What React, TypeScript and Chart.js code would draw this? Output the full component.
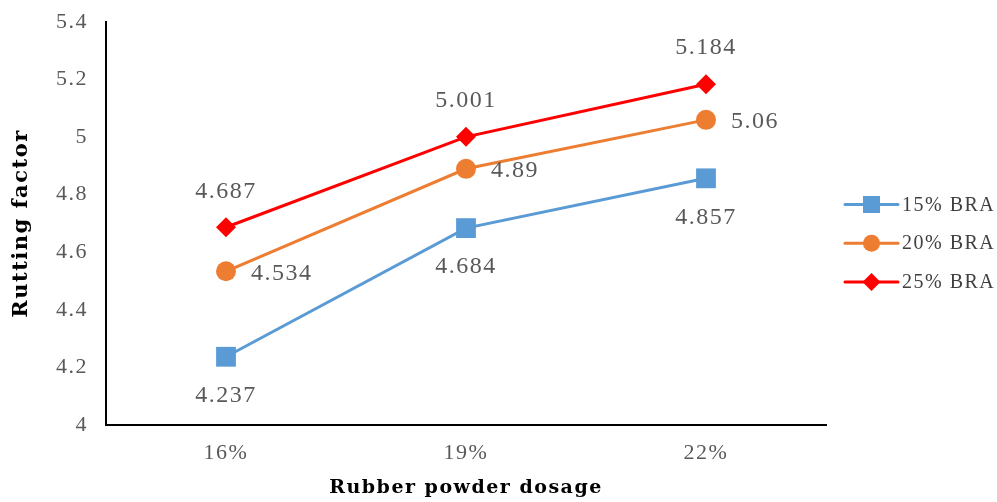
import React, { useEffect, useRef } from 'react';
import { Chart, registerables } from 'chart.js';

Chart.register(...registerables);

const categories = ['16%', '19%', '22%'];
const seriesNames = ['15% BRA', '20% BRA', '25% BRA'];
const bra15 = [4.237, 4.684, 4.857];
const bra20 = [4.534, 4.89, 5.06];
const bra25 = [4.687, 5.001, 5.184];
const seriesValues = [bra15, bra20, bra25];
const colors = ['#5B9BD5', '#ED7D31', '#FF0000'];
const pointStyles = ['rect', 'circle', 'rectRot'];
const pointRadii = [14, 10, 10];
const labelPositions = ['below', 'right', 'above'];
const yMin = 4;
const yMax = 5.4;
const yStep = 0.2;
const xTitle = 'Rubber powder dosage';
const yTitle = 'Rutting factor';

const SERIF = '"Liberation Serif", "DejaVu Serif", serif';
const TITLE_FONT = '"DejaVu Serif", "Liberation Serif", serif';
const GRAY = '#595959';

const spacingPlugin = {
  id: 'spacing',
  beforeDraw(chart: any) {
    chart.ctx.letterSpacing = '1.5px';
  },
  afterDraw(chart: any) {
    chart.ctx.letterSpacing = '0px';
  },
};

const dataLabelPlugin = {
  id: 'dataLabels',
  afterDatasetsDraw(chart: any) {
    const ctx = chart.ctx;
    ctx.save();
    ctx.letterSpacing = '1.5px';
    ctx.font = `24px ${SERIF}`;
    ctx.fillStyle = GRAY;
    ctx.textBaseline = 'middle';
    chart.data.datasets.forEach((ds: any, di: number) => {
      const meta = chart.getDatasetMeta(di);
      meta.data.forEach((pt: any, i: number) => {
        const txt = String(ds.data[i]);
        const pos = labelPositions[di];
        if (pos === 'above') {
          ctx.textAlign = 'center';
          ctx.fillText(txt, pt.x, pt.y - 36);
        } else if (pos === 'below') {
          ctx.textAlign = 'center';
          ctx.fillText(txt, pt.x, pt.y + 39);
        } else {
          ctx.textAlign = 'left';
          ctx.fillText(txt, pt.x + 25, pt.y + 2);
        }
      });
    });
    ctx.restore();
  },
};

function drawMarker(ctx: CanvasRenderingContext2D, style: string, x: number, y: number, color: string) {
  ctx.fillStyle = color;
  ctx.beginPath();
  if (style === 'rect') {
    ctx.rect(x - 8.5, y - 8.5, 17, 17);
  } else if (style === 'circle') {
    ctx.arc(x, y, 8.5, 0, Math.PI * 2);
  } else {
    ctx.moveTo(x, y - 9);
    ctx.lineTo(x + 9, y);
    ctx.lineTo(x, y + 9);
    ctx.lineTo(x - 9, y);
    ctx.closePath();
  }
  ctx.fill();
}

const legendPlugin = {
  id: 'sideLegend',
  afterDraw(chart: any) {
    const ctx = chart.ctx;
    ctx.save();
    ctx.letterSpacing = '1.5px';
    const area = chart.chartArea;
    const x0 = area.right + 19;
    const lineLen = 53;
    const top = 204.5;
    const gap = 38.7;
    seriesNames.forEach((name, i) => {
      const y = top + i * gap;
      ctx.strokeStyle = colors[i];
      ctx.lineWidth = 3;
      ctx.lineCap = 'round';
      ctx.beginPath();
      ctx.moveTo(x0, y);
      ctx.lineTo(x0 + lineLen, y);
      ctx.stroke();
      drawMarker(ctx, pointStyles[i], x0 + lineLen / 2, y, colors[i]);
      ctx.font = `20px ${SERIF}`;
      ctx.fillStyle = '#404040';
      ctx.textAlign = 'left';
      ctx.textBaseline = 'middle';
      ctx.fillText(name, x0 + lineLen + 4, y + 1);
    });
    ctx.restore();
  },
};

export default function App() {
  const ref = useRef<HTMLCanvasElement | null>(null);

  useEffect(() => {
    if (!ref.current) return;
    const chart = new Chart(ref.current, {
      type: 'line',
      data: {
        labels: categories,
        datasets: seriesNames.map((name, i) => ({
          label: name,
          data: seriesValues[i],
          borderColor: colors[i],
          backgroundColor: colors[i],
          borderWidth: 3,
          pointStyle: pointStyles[i] as any,
          pointRadius: pointRadii[i],
          pointHoverRadius: pointRadii[i],
          pointBorderWidth: 0,
          pointBackgroundColor: colors[i],
          tension: 0,
          fill: false,
          clip: false as any,
        })),
      },
      options: {
        animation: false,
        responsive: false,
        events: [],
        layout: { autoPadding: false, padding: { top: 22, right: 171, left: 0, bottom: 0 } },
        plugins: {
          legend: { display: false },
          tooltip: { enabled: false },
        },
        scales: {
          x: {
            type: 'category',
            offset: true,
            grid: { display: false, drawTicks: false },
            border: { display: true, color: '#000000', width: 2 },
            ticks: {
              color: GRAY,
              padding: 15,
              font: { family: SERIF, size: 22 },
            },
            title: {
              display: true,
              text: xTitle,
              color: '#000000',
              font: { family: TITLE_FONT, size: 19, weight: 'bold' },
              padding: { top: 0, bottom: 3 },
            },
            afterFit: (s: any) => {
              s.height = 77;
              s.paddingLeft = 0;
              s.paddingRight = 0;
            },
          },
          y: {
            type: 'linear',
            min: yMin,
            max: yMax,
            grid: { display: false, drawTicks: false },
            border: { display: true, color: '#000000', width: 2 },
            ticks: {
              stepSize: yStep,
              color: GRAY,
              padding: 18,
              font: { family: SERIF, size: 22 },
              callback: (v: any) => String(Number(Number(v).toFixed(1))),
            },
            title: {
              display: true,
              text: yTitle,
              color: '#000000',
              font: { family: TITLE_FONT, size: 21, weight: 'bold' },
              padding: { top: 9, bottom: 0 },
            },
            afterFit: (s: any) => {
              s.width = 106;
              s.paddingTop = 0;
              s.paddingBottom = 0;
            },
          },
        },
      },
      plugins: [spacingPlugin, dataLabelPlugin, legendPlugin],
    });
    return () => chart.destroy();
  }, []);

  return (
    <div style={{ position: 'absolute', left: 0, top: 0, width: 997, height: 502, background: '#ffffff' }}>
      <canvas ref={ref} width={997} height={502} />
    </div>
  );
}
